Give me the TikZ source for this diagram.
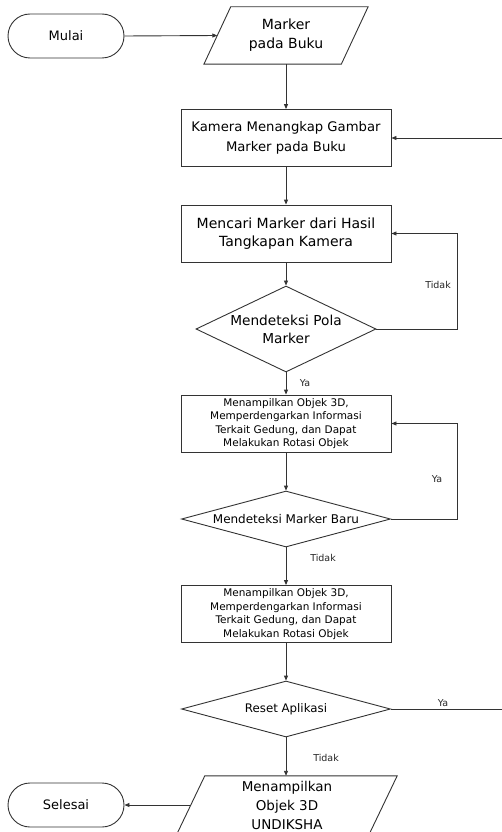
\documentclass[tikz,border=0pt]{standalone}
\usepackage{fontspec}
\setmainfont{DejaVu Sans}
\usetikzlibrary{shapes.geometric,shapes.misc,arrows.meta}
\begin{document}
\begin{tikzpicture}[x=1pt,y=-1pt,
  line/.style={draw=black!80, line width=0.9pt},
  arr/.style={line, -{Triangle[length=5pt,width=4pt]}},
  term/.style={line, rounded rectangle, minimum width=116pt, minimum height=44pt, inner sep=0pt, font=\fontsize{13}{16}\selectfont},
  iobody/.style={rectangle, inner sep=0pt, align=center},
  proc/.style={line, rectangle, minimum width=210pt, minimum height=57pt, inner sep=0pt, align=center},
  dec/.style={line, diamond, inner sep=0pt},
  txt/.style={align=center, inner sep=0pt},
  lbl/.style={font=\fontsize{9.5}{11}\selectfont, text=black!85, inner sep=0pt}
]
\useasboundingbox (0,0) rectangle (502,832);

% nodes
\node[term] (mulai) at (66,36) {Mulai};
\node[iobody, minimum width=137pt, minimum height=57pt, font=\fontsize{14}{19}\selectfont] (pa) at (286,35.5) {Marker\\pada Buku};
\draw[line] ([xshift=13.4pt]pa.north west) -- ([xshift=13.4pt]pa.north east)
  -- ([xshift=-13.4pt]pa.south east) -- ([xshift=-13.4pt]pa.south west) -- cycle;

\node[proc, font=\fontsize{13.2}{20}\selectfont] (kam) at (286,138) {Kamera Menangkap Gambar\\Marker pada Buku};
\node[proc, font=\fontsize{14}{18.5}\selectfont] (cari) at (286,233.5) {Mencari Marker dari Hasil\\Tangkapan Kamera};

\node[dec, minimum width=180pt, minimum height=86pt] (d1) at (286,329) {};
\node[txt, font=\fontsize{13.7}{18}\selectfont] (d1t) at (d1) {Mendeteksi Pola\\Marker};

\node[proc, font=\fontsize{10.5}{13.5}\selectfont] (box2) at (286,423.5) {Menampilkan Objek 3D,\\Memperdengarkan Informasi\\Terkait Gedung, dan Dapat\\Melakukan Rotasi Objek};

\node[dec, minimum width=209pt, minimum height=56pt] (d2) at (286,519) {};
\node[txt, font=\fontsize{12}{15}\selectfont] (d2t) at (d2) {Mendeteksi Marker Baru};

\node[proc, font=\fontsize{10.5}{13.5}\selectfont] (box3) at (286,614) {Menampilkan Objek 3D,\\Memperdengarkan Informasi\\Terkait Gedung, dan Dapat\\Melakukan Rotasi Objek};

\node[dec, minimum width=209pt, minimum height=56pt] (d3) at (286,709) {};
\node[txt, font=\fontsize{11.8}{15}\selectfont] (d3t) at (d3) {Reset Aplikasi};

\node[iobody, minimum width=192pt, minimum height=58pt, font=\fontsize{13.5}{19}\selectfont] (pb) at (287,805) {Menampilkan\\Objek 3D\\UNDIKSHA};
\draw[line] ([xshift=14pt]pb.north west) -- ([xshift=14pt]pb.north east)
  -- ([xshift=-14pt]pb.south east) -- ([xshift=-14pt]pb.south west) -- cycle;

\node[term] (selesai) at (66,805) {Selesai};

% connectors
\draw[arr] (mulai.east) -- (pa.west);
\draw[arr] (pa.south) -- (kam.north);
\draw[arr] (kam) -- (cari);
\draw[arr] (cari) -- (d1);
\draw[arr] (d1) -- (box2);
\draw[arr] (d1.east) -- ++(81,0) |- (cari.east);
\draw[arr] (box2) -- (d2);
\draw[arr] (d2.east) -- ++(66.5,0) |- (box2.east);
\draw[arr] (d2) -- (box3);
\draw[arr] (box3) -- (d3);
\draw[arr] (d3.south) -- (d3.south |- pb.north);
\draw[arr] (d3.east) -- ++(120,0) |- (kam.east);
\draw[arr] (pb.west) -- (selesai.east);

% labels
\node[lbl] (l1) at (438,285) {Tidak};
\node[lbl] (l2) at (305,383) {Ya};
\node[lbl] (l3) at (437,479) {Ya};
\node[lbl] (l4) at (323,558) {Tidak};
\node[lbl] (l5) at (443,703) {Ya};
\node[lbl] (l6) at (326,758) {Tidak};
\end{tikzpicture}
\end{document}
